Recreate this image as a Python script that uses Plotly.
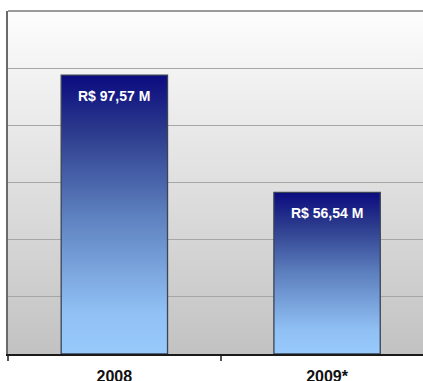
import base64
import plotly.graph_objects as go

# ---- data ----
categories = ["2008", "2009*"]
values = [97.57, 56.54]
value_labels = ["R$ 97,57 M", "R$ 56,54 M"]
y_ticks = [0, 20, 40, 60, 80, 100, 120]

bar_half = 0.25
bar_scale = [
    [0.0, "#98cafc"],
    [0.15, "#90c0f4"],
    [0.5, "#5d80be"],
    [0.8, "#2b3a8c"],
    [1.0, "#0b0b80"],
]

fig = go.Figure()

for i, (cat, v) in enumerate(zip(categories, values)):
    fig.add_trace(go.Scatter(
        x=[i - bar_half, i - bar_half, i + bar_half, i + bar_half, i - bar_half],
        y=[0, v, v, 0, 0],
        mode="lines",
        fill="toself",
        fillgradient=dict(type="vertical", colorscale=bar_scale, start=0, stop=v),
        line=dict(color="#3a4454", width=1.3),
        hoverinfo="skip",
        showlegend=False,
    ))
    fig.add_annotation(
        x=i, y=v, text="<b>%s</b>" % value_labels[i],
        showarrow=False, yanchor="top", yshift=-11,
        font=dict(color="white", size=14, family="Liberation Sans, Arial"),
    )

svg = (
    '<svg xmlns="http://www.w3.org/2000/svg" width="100" height="100" preserveAspectRatio="none">'
    '<defs><linearGradient id="g" x1="0" y1="0" x2="0" y2="1">'
    '<stop offset="0" stop-color="#fdfdfd"/>'
    '<stop offset="1" stop-color="#c2c2c2"/>'
    '</linearGradient></defs>'
    '<rect width="100" height="100" fill="url(#g)"/></svg>'
)
uri = "data:image/svg+xml;base64," + base64.b64encode(svg.encode()).decode()
fig.add_layout_image(dict(
    source=uri, xref="paper", yref="paper", x=0, y=1, sizex=1, sizey=1,
    xanchor="left", yanchor="top", sizing="stretch", layer="below",
))

fig.add_shape(type="line", xref="paper", yref="paper", x0=0, x1=1, y0=1, y1=1,
              line=dict(color="#7a7a7a", width=1.5))

fig.update_layout(
    width=423, height=381,
    margin=dict(l=8, r=0, t=11, b=27, autoexpand=False),
    paper_bgcolor="white",
    plot_bgcolor="rgba(0,0,0,0)",
    font=dict(family="Liberation Sans, Arial", color="#111"),
    showlegend=False,
)
fig.update_xaxes(
    range=[-0.5, 1.451],
    tickvals=list(range(len(categories))),
    ticktext=["<b>%s</b>" % c for c in categories],
    ticks="",
    tickfont=dict(size=16, color="#111"),
    ticklabelstandoff=7,
    automargin=False,
    showgrid=False, zeroline=False,
    showline=True, linecolor="#1a1a1a", linewidth=1.5,
    minor=dict(ticks="outside", tick0=-0.5, dtick=1, ticklen=5, tickcolor="#555", tickwidth=1.5),
)
fig.update_yaxes(
    range=[0, 120],
    tickvals=y_ticks,
    showticklabels=False, ticks="",
    automargin=False,
    showgrid=True, gridcolor="#a6a6a6", gridwidth=1,
    zeroline=False,
    showline=True, linecolor="#6a6a6a", linewidth=1.5,
)

fig.write_html("out.html")
